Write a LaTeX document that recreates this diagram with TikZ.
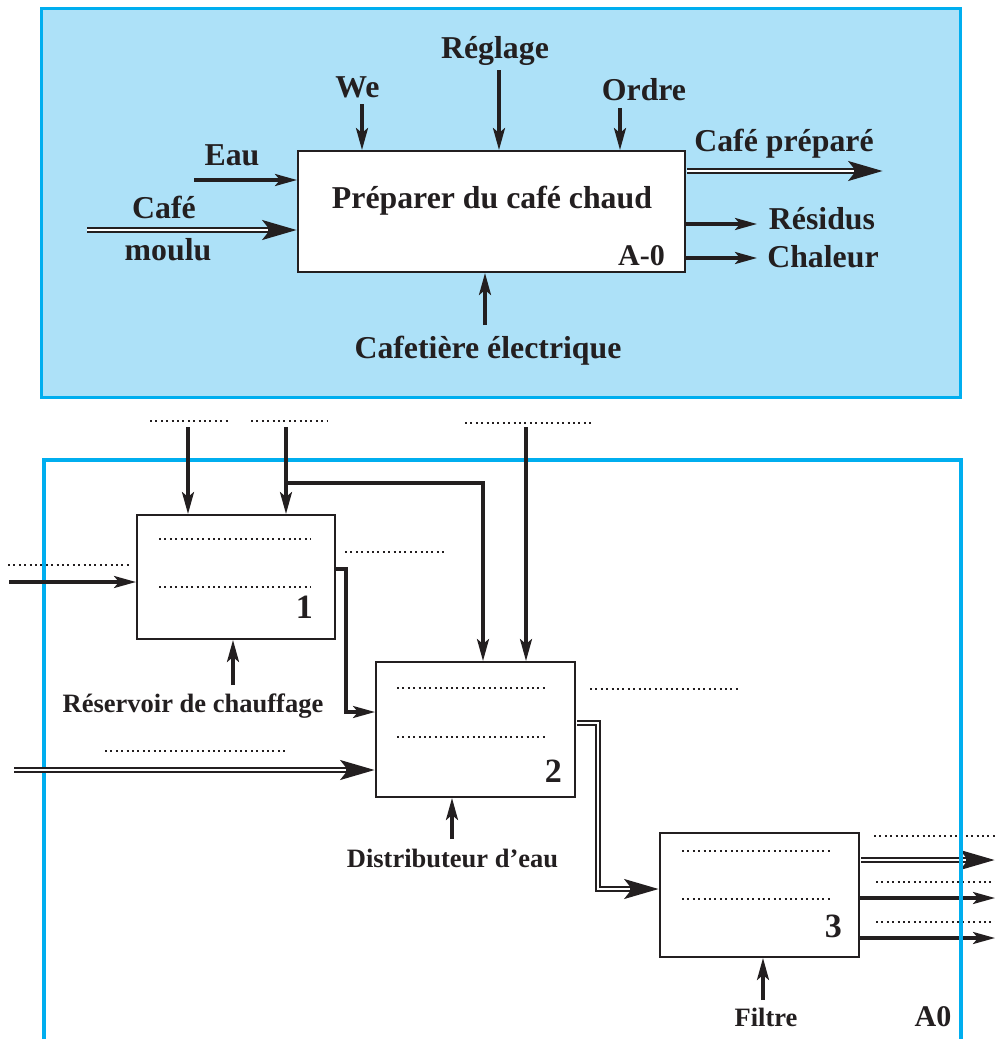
\documentclass[tikz,border=0pt]{standalone}
\usepackage{fontspec}
\setmainfont{Liberation Serif}
\usetikzlibrary{arrows.meta, positioning}
\definecolor{skyfill}{HTML}{ADE1F8}
\definecolor{skyline}{HTML}{00AEEF}
\definecolor{ink}{HTML}{231F20}
\tikzset{
    box/.style={
        rectangle, draw=ink, fill=white, line width=2pt, inner sep=0pt
    },
    mm/.style={
        draw=ink, line width=3.2pt, -{Stealth[length=22pt, width=12pt, inset=5pt]}
    },
    dd/.style={
        draw=ink, line width=6.4pt, -{Stealth[length=34pt, width=19pt, inset=7pt]},
        postaction={draw=white, line width=2.8pt, shorten >=29pt, -}
    },
    blank/.style={
        draw=ink, line width=1.9pt, dash pattern=on 1.9pt off 3.5pt
    },
    bigtext/.style={
        text=ink, font=\bfseries\fontsize{31.8}{36}\selectfont, inner sep=0pt, anchor=base
    },
    smalltext/.style={
        text=ink, font=\bfseries\fontsize{26.5}{30}\selectfont, inner sep=0pt, anchor=base
    },
    num/.style={
        text=ink, font=\bfseries\fontsize{34}{38}\selectfont, inner sep=0pt, anchor=base east
    },
    aframe/.style={
        draw=skyline, line width=4.6pt
    }
}

\begin{document}
\begin{tikzpicture}[x=1pt, y=-1pt]
        \useasboundingbox (0,0) rectangle (995,1039);

        % A-0 context diagram

        \draw[draw=skyline, fill=skyfill, line width=3pt] (41,8) rectangle (960,397);

        \node[box, minimum width=387pt, minimum height=121pt] (a0) at (491.5,211.5) {};
        \node[bigtext] (a0title) at (492,208) {Préparer du café chaud};
        \node[bigtext, anchor=base east, font=\bfseries\fontsize{30}{34}\selectfont] (a0id) at (665,265) {A-0};

        \coordinate (eauin)   at (194,180);
        \coordinate (cafein)  at (87,230);
        \coordinate (wein)    at (362,104);
        \coordinate (reglin)  at (499,70);
        \coordinate (ordrein) at (620,108);
        \coordinate (cafeout) at (883,171);
        \coordinate (residout) at (757,224);
        \coordinate (chalout) at (757,258);
        \coordinate (cafetin) at (485,325);

        \path (eauin) edge[mm] (eauin -| a0.west)
                (cafein) edge[dd] (cafein -| a0.west)
                (wein) edge[mm] (wein |- a0.north)
                (reglin) edge[mm] (reglin |- a0.north)
                (ordrein) edge[mm] (ordrein |- a0.north)
                ([xshift=1pt]a0.east |- cafeout) edge[dd] (cafeout)
                (a0.east |- residout) edge[mm] (residout)
                (a0.east |- chalout) edge[mm] (chalout)
                (cafetin) edge[mm] (cafetin |- a0.south);

        \node[bigtext] (leau)    at (232,165) {Eau};
        \node[bigtext] (lcafe)   at (164,218) {Café};
        \node[bigtext] (lmoulu)  at (168,260) {moulu};
        \node[bigtext] (lwe)     at (357.5,97) {We};
        \node[bigtext] (lregl)   at (495,58) {Réglage};
        \node[bigtext] (lordre)  at (644,100) {Ordre};
        \node[bigtext] (lcafep)  at (784,151) {Café préparé};
        \node[bigtext] (lresid)  at (822,229) {Résidus};
        \node[bigtext] (lchal)   at (823,267) {Chaleur};
        \node[bigtext] (lcafet)  at (488,358) {Cafetière électrique};

        % A0 decomposition

        \draw[aframe] (44,1045) -- (44,460) -- (961,460) -- (961,1045);
        \node[smalltext, font=\bfseries\fontsize{30}{34}\selectfont] (a0frame) at (933,1026) {A0};

        \node[box, minimum width=198pt, minimum height=124pt] (b1) at (236,577) {};
        \node[box, minimum width=199pt, minimum height=135pt] (b2) at (475.5,729.5) {};
        \node[box, minimum width=199pt, minimum height=124pt] (b3) at (759.5,895) {};

        \node[num] (n1) at (313,618) {1};
        \node[num] (n2) at (562,782) {2};
        \node[num] (n3) at (842,937) {3};

        % empty labels
        \draw[blank] (159,539) -- (311,539);
        \draw[blank] (159,587) -- (311,587);
        \draw[blank] (397,688) -- (548,688);
        \draw[blank] (397,737) -- (548,737);
        \draw[blank] (682,851) -- (833,851);
        \draw[blank] (682,899) -- (833,899);
        \draw[blank] (150,421) -- (228,421);
        \draw[blank] (251,421) -- (327,421);
        \draw[blank] (465,423) -- (594,423);
        \draw[blank] (8,565) -- (130,565);
        \draw[blank] (345,552) -- (446,552);
        \draw[blank] (105,751) -- (286,751);
        \draw[blank] (590,689) -- (741,689);
        \draw[blank] (874,836) -- (995,836);
        \draw[blank] (876,882) -- (995,882);
        \draw[blank] (876,922) -- (995,922);

        % Box 1

        \coordinate (c1in)    at (188,427);
        \coordinate (c2in)    at (286,427);
        \coordinate (c2split) at (286,483);
        \coordinate (i1in)    at (9,582);
        \coordinate (m1in)    at (233,685);

        \path (c1in) edge[mm] (c1in |- b1.north)
                (c2in) edge[mm] (c2in |- b1.north)
                (i1in) edge[mm] (i1in -| b1.west)
                (m1in) edge[mm] (m1in |- b1.south);
        \draw[mm] (c2split) -| ([xshift=7.5pt]b2.north);
        \draw[mm] ([yshift=8pt]b1.east) -- ++(10,0) |- ([yshift=17.5pt]b2.west);

        \node[smalltext] (lres) at (193,712) {Réservoir de chauffage};

        % Box 2

        \coordinate (c3in) at (526,427);
        \coordinate (i2in) at (14,770);
        \coordinate (m2in) at (452,839);

        \path (c3in) edge[mm] (c3in |- b2.north)
                (i2in) edge[dd] (i2in -| b2.west)
                (m2in) edge[mm] (m2in |- b2.south);
        \draw[dd] ([xshift=1pt, yshift=6.5pt]b2.east) -- ++(21,0) |- ([yshift=6pt]b3.west);

        \node[smalltext] (ldist) at (452.5,867) {Distributeur d’eau};

        % Box 3

        \coordinate (o1out) at (995,860);
        \coordinate (o2out) at (995,898);
        \coordinate (o3out) at (995,938);
        \coordinate (m3in)  at (763,1000);

        \path ([xshift=1pt]b3.east |- o1out) edge[dd] (o1out)
                (b3.east |- o2out) edge[mm] (o2out)
                (b3.east |- o3out) edge[mm] (o3out)
                (m3in) edge[mm] (m3in |- b3.south);

        \node[smalltext] (lfiltre) at (766,1026) {Filtre};

        \draw[aframe] (961,460) -- (961,1045);
\end{tikzpicture}
\end{document}
